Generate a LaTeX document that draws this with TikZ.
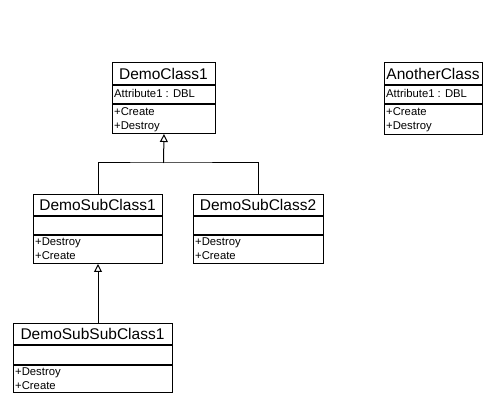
\documentclass[tikz,border=0pt]{standalone}
\usepackage{fontspec}
\setmainfont{Liberation Sans}
\usetikzlibrary{arrows.meta}
\begin{document}
\begin{tikzpicture}[x=1pt,y=-1pt,
  box/.style={draw, line width=1pt, inner sep=0pt, anchor=north west},
  div/.style={line width=2pt},
  ttl/.style={font=\fontsize{15.5}{18}\selectfont, inner sep=0pt},
  itm/.style={font=\fontsize{11.3}{12}\selectfont, inner sep=0pt, anchor=west, text height=8pt, text depth=2.5pt},
  conn/.style={line width=1pt},
  gen/.style={line width=1pt, -{Triangle[open,width=8pt,length=8pt]}}]
\fill[white] (0,0) rectangle (496,406);
\useasboundingbox (0,0) rectangle (496,406);

% DemoClass1
\node[box, minimum width=103pt, minimum height=71pt] (dc1) at (112,62) {};
\draw[div] (112,85) -- (215,85);
\draw[div] (112,104) -- (215,104);
\node[ttl] (dc1t) at (163.5,74) {DemoClass1};
\node[itm] (dc1a) at (114,95) {Attribute1 : DBL};
\node[itm] (dc1o1) at (114,112.5) {+Create};
\node[itm] (dc1o2) at (114,126.5) {+Destroy};

% AnotherClass
\node[box, minimum width=98pt, minimum height=72pt] (ac) at (384,62) {};
\draw[div] (384,85) -- (482,85);
\draw[div] (384,104) -- (482,104);
\node[ttl] (act) at (433,74) {AnotherClass};
\node[itm] (aca) at (386,95) {Attribute1 : DBL};
\node[itm] (aco1) at (386,112.5) {+Create};
\node[itm] (aco2) at (386,126.5) {+Destroy};

% DemoSubClass1
\node[box, minimum width=129pt, minimum height=69pt] (dsc1) at (33,194) {};
\draw[div] (33,216) -- (162,216);
\draw[div] (33,235) -- (162,235);
\node[ttl] (dsc1t) at (97.5,205) {DemoSubClass1};
\node[itm] (dsc1o1) at (35,242.5) {+Destroy};
\node[itm] (dsc1o2) at (35,256.5) {+Create};

% DemoSubClass2
\node[box, minimum width=130pt, minimum height=69pt] (dsc2) at (193,194) {};
\draw[div] (193,216) -- (323,216);
\draw[div] (193,235) -- (323,235);
\node[ttl] (dsc2t) at (258,205) {DemoSubClass2};
\node[itm] (dsc2o1) at (195,242.5) {+Destroy};
\node[itm] (dsc2o2) at (195,256.5) {+Create};

% DemoSubSubClass1
\node[box, minimum width=159pt, minimum height=69pt] (dssc1) at (13,323) {};
\draw[div] (13,345) -- (172,345);
\draw[div] (13,365) -- (172,365);
\node[ttl] (dssc1t) at (92.5,334) {DemoSubSubClass1};
\node[itm] (dssc1o1) at (15,372.5) {+Destroy};
\node[itm] (dssc1o2) at (15,386.5) {+Create};

% generalizations
\coordinate (j) at (163.5,163);
\draw[conn] (dsc1.north) |- (j) -| (dsc2.north);
\draw[gen] (j) -- (dc1.south);
\draw[gen] (dsc1.south |- dssc1.north) -- (dsc1.south);
\end{tikzpicture}
\end{document}
